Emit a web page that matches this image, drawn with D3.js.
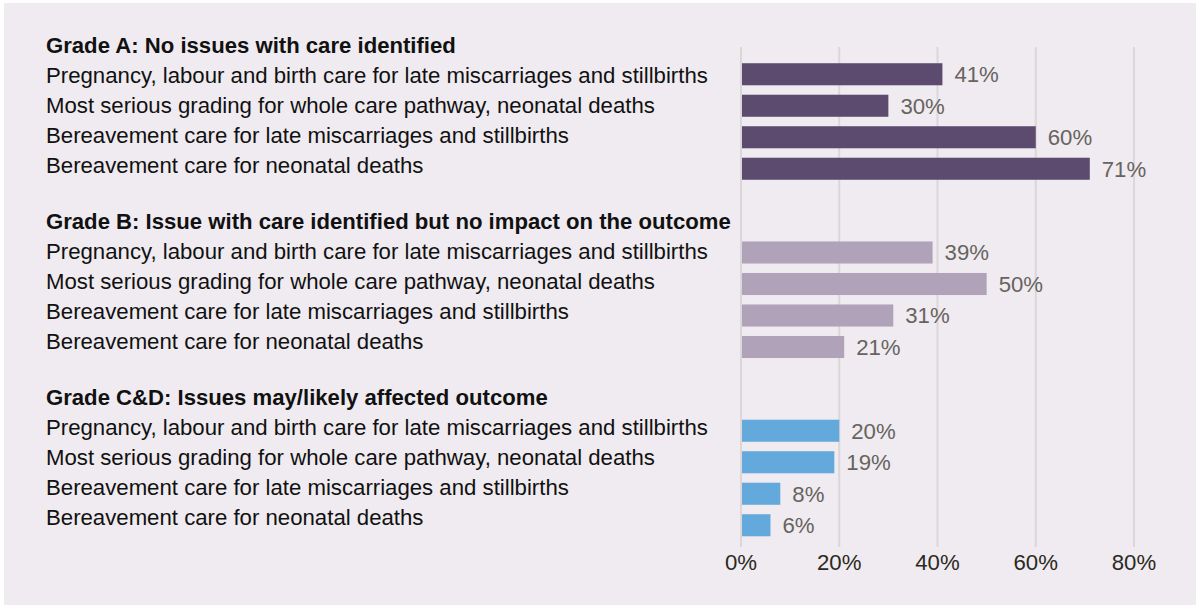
<!DOCTYPE html>
<html>
<head>
<meta charset="utf-8">
<script src="https://cdn.jsdelivr.net/npm/d3@7"></script>
<style>
  html, body { margin: 0; padding: 0; background: #ffffff; }
  svg { display: block; }
</style>
</head>
<body>
<svg id="chart" width="1198" height="605"></svg>
<script>
// ---- Data ----
const groups = ["A", "B", "CD"];
const groupTitles = [
  "Grade A: No issues with care identified",
  "Grade B: Issue with care identified but no impact on the outcome",
  "Grade C&D: Issues may/likely affected outcome"
];
const categories = [
  "Pregnancy, labour and birth care for late miscarriages and stillbirths",
  "Most serious grading for whole care pathway, neonatal deaths",
  "Bereavement care for late miscarriages and stillbirths",
  "Bereavement care for neonatal deaths"
];
const gradeA = [41, 30, 60, 71];
const gradeB = [39, 50, 31, 21];
const gradeCD = [20, 19, 8, 6];
const groupColors = ["#5c4b6e", "#b0a2b8", "#63a9db"];
const tickValues = [0, 20, 40, 60, 80];
const tickLabels = ["0%", "20%", "40%", "60%", "80%"];

const seriesValues = [gradeA, gradeB, gradeCD];

// ---- Font choice: first installed Arial-like sans, sized to match reference widths ----
const fontCandidates = ["Liberation Sans", "Arimo", "Arial", "Helvetica", "Roboto", "Noto Sans", "Open Sans", "Lato", "Inter", "DejaVu Sans"];
const ctx = document.createElement("canvas").getContext("2d");
function measure(fam, s, w) {
  ctx.font = (w || "normal") + " 20px " + fam;
  return ctx.measureText(s).width;
}
const probe = "mmmmmmmmmmlliWWwQ@#0123456789";
function installed(f) {
  const q = "'" + f + "'";
  return measure(q + ", monospace", probe) !== measure("monospace", probe) ||
         measure(q + ", serif", probe) !== measure("serif", probe);
}
let fam = "sans-serif";
for (const f of fontCandidates) { if (installed(f)) { fam = "'" + f + "'"; break; } }
const fontStack = fam + ", sans-serif";
const refLen = 662;      // reference width of categories[0] at regular weight
const refBoldLen = 411;  // reference width of groupTitles[0] in bold
const fs = +(20 * refLen / measure(fontStack, categories[0])).toFixed(2);
const fsBold = +(20 * refBoldLen / measure(fontStack, groupTitles[0], "bold")).toFixed(2);

// ---- Layout ----
const svg = d3.select("#chart").style("font-family", fontStack);
const W = 1198, H = 605;

svg.append("rect")
  .attr("x", 4).attr("y", 3)
  .attr("width", W - 6).attr("height", H - 3)
  .attr("fill", "#efebf0");

const x = d3.scaleLinear().domain([0, 80]).range([741, 1134]);

const gBars = d3.scalePoint().domain(groups).range([58.5, 415]);
const inner = d3.scaleBand().domain(d3.range(categories.length))
  .range([0, 126]).paddingInner(0.3).paddingOuter(0.15);

const gText = d3.scalePoint().domain(groups).range([53, 405]);
const lineStep = 30;

svg.append("g").selectAll("line")
  .data(tickValues)
  .join("line")
  .attr("x1", d => x(d)).attr("x2", d => x(d))
  .attr("y1", 47).attr("y2", 547)
  .attr("stroke", "#dbd7d9")
  .attr("stroke-width", 2);

svg.append("g").selectAll("text")
  .data(tickValues)
  .join("text")
  .attr("x", d => x(d))
  .attr("y", 570)
  .attr("text-anchor", "middle")
  .attr("font-size", fs)
  .attr("fill", "#2b2922")
  .text((d, i) => tickLabels[i]);

groups.forEach((g, gi) => {
  const vals = seriesValues[gi];
  const gy = gBars(g);
  const block = svg.append("g");

  block.selectAll("rect")
    .data(vals)
    .join("rect")
    .attr("x", x(0) + 1)
    .attr("y", (d, i) => gy + inner(i))
    .attr("width", d => x(d) - x(0) - 1)
    .attr("height", inner.bandwidth())
    .attr("fill", groupColors[gi]);

  block.selectAll("text.val")
    .data(vals)
    .join("text")
    .attr("class", "val")
    .attr("x", d => x(d) + 12)
    .attr("y", (d, i) => gy + inner(i) + inner.bandwidth() / 2)
    .attr("dy", "0.36em")
    .attr("font-size", fs)
    .attr("fill", "#67635f")
    .text(d => d + "%");

  const ty = gText(g);
  svg.append("text")
    .attr("x", 46).attr("y", ty)
    .attr("font-size", fsBold)
    .attr("font-weight", "bold")
    .attr("fill", "#111111")
    .text(groupTitles[gi]);

  svg.append("g").selectAll("text")
    .data(categories)
    .join("text")
    .attr("x", 46)
    .attr("y", (d, i) => ty + lineStep * (i + 1))
    .attr("font-size", fs)
    .attr("fill", "#111111")
    .text(d => d);
});
</script>
</body>
</html>
